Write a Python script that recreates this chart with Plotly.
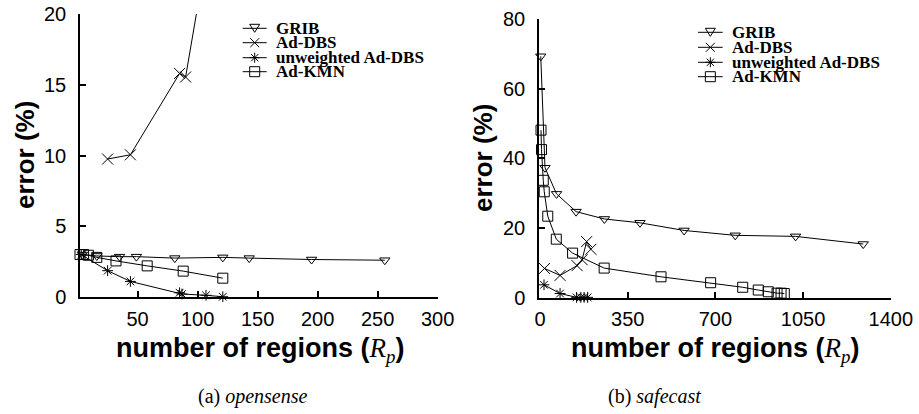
import plotly.graph_objects as go

W, H = 919, 414

# ---------------- data: (a) opensense ----------------
a_grib_x = [4, 16, 35, 49, 81, 121, 143, 195, 256]
a_grib_y = [3.0, 2.9, 2.85, 2.85, 2.75, 2.8, 2.75, 2.65, 2.6]

a_dbs_x = [25, 44, 85, 90, 120]
a_dbs_y = [9.75, 10.05, 15.8, 15.55, 30.4]

a_unw_x = [3, 25, 44, 85, 87, 107, 121]
a_unw_y = [3.0, 1.86, 1.1, 0.3, 0.21, 0.12, 0.02]

a_kmn_x = [2, 5, 9, 16, 32, 58, 88, 121]
a_kmn_y = [3.0, 3.0, 2.95, 2.8, 2.55, 2.2, 1.83, 1.33]

# ---------------- data: (b) safecast ----------------
b_grib_x = [3, 20, 66, 144, 257, 399, 575, 779, 1020, 1290]
b_grib_y = [69.3, 37.3, 29.8, 24.7, 22.6, 21.5, 19.3, 17.9, 17.6, 15.4]

b_dbs_x = [18, 80, 148, 168, 186, 203]
b_dbs_y = [8.4, 6.4, 9.2, 10.9, 16.1, 13.9]

b_unw_x = [16, 80, 146, 163, 176, 190]
b_unw_y = [3.7, 1.2, 0.1, 0.1, 0.1, 0.1]

b_kmn_x = [4, 6, 13, 17, 31, 65, 130, 256, 483, 681, 809, 871, 911, 946, 962, 975]
b_kmn_y = [48.1, 42.5, 33.7, 30.4, 23.4, 16.8, 12.8, 8.5, 6.0, 4.3, 3.0, 2.2, 1.7, 1.3, 1.3, 1.2]

a_xticks = [50, 100, 150, 200, 250, 300]
a_yticks = [0, 5, 10, 15, 20]
b_xticks = [0, 350, 700, 1050, 1400]
b_yticks = [0, 20, 40, 60, 80]

series_names = ["GRIB", "Ad-DBS", "unweighted Ad-DBS", "Ad-KMN"]
symbols = ["triangle-down-open", "x-thin-open", "asterisk-open", "square-open"]
sizes = [9, 11, 9, 10]

fig = go.Figure()

def add(xs, ys, k, xa, ya, clip=False):
    fig.add_trace(go.Scatter(
        x=xs, y=ys, mode="lines+markers", name=series_names[k],
        xaxis=xa, yaxis=ya, showlegend=False, cliponaxis=clip,
        line=dict(color="black", width=1),
        marker=dict(symbol=symbols[k], size=sizes[k], color="black",
                    line=dict(color="black", width=1)),
    ))

add(a_grib_x, a_grib_y, 0, "x", "y")
add(a_dbs_x, a_dbs_y, 1, "x", "y", clip=True)
add(a_unw_x, a_unw_y, 2, "x", "y")
add(a_kmn_x, a_kmn_y, 3, "x", "y")

add(b_grib_x, b_grib_y, 0, "x2", "y2")
add(b_dbs_x, b_dbs_y, 1, "x2", "y2")
add(b_unw_x, b_unw_y, 2, "x2", "y2")
add(b_kmn_x, b_kmn_y, 3, "x2", "y2")

tickfont = dict(family="Liberation Sans, Arial, sans-serif", size=20, color="black")
common = dict(showline=True, linecolor="black", linewidth=1.5, ticks="inside",
              ticklen=6, tickwidth=1.5, tickcolor="black", showgrid=False,
              zeroline=False, tickfont=tickfont, automargin=False)

def fx(p):
    return p / W

def fy(p):
    return 1 - p / H

fig.update_layout(
    width=W, height=H,
    margin=dict(l=0, r=0, t=0, b=0),
    paper_bgcolor="white", plot_bgcolor="white",
    showlegend=False,
    xaxis=dict(domain=[fx(80), fx(437.6)], range=[2, 300], anchor="y",
               tickvals=a_xticks, ticklabelstandoff=3, **common),
    yaxis=dict(domain=[fy(297), fy(14)], range=[0, 20], anchor="x",
               tickvals=a_yticks, ticklabelstandoff=8, **common),
    xaxis2=dict(domain=[fx(539), fx(890.8)], range=[-4, 1400], anchor="y2",
                tickvals=b_xticks, ticklabelstandoff=3, **common),
    yaxis2=dict(domain=[fy(297.7), fy(19)], range=[0, 80], anchor="x2",
                tickvals=b_yticks, ticklabelstandoff=8, **common),
)

annos = []
shapes = []

ytitle_font = dict(family="Liberation Sans, Arial, sans-serif", size=26, color="black")
xtitle_font = dict(family="Liberation Sans, Arial, sans-serif", size=27, color="black")
xtitle = ("<b>number of regions (</b><span style=\"font-family:Liberation Serif\">"
          "<i>R</i><sub><i>p</i></sub></span><b>)</b>")
for cx, cy in [(25, 155), (483, 158)]:
    annos.append(dict(text="<b>error (%)</b>", textangle=-90, x=fx(cx), y=fy(cy),
                      xref="paper", yref="paper", showarrow=False,
                      xanchor="center", yanchor="middle", font=ytitle_font))
for cx in [260, 715]:
    annos.append(dict(text=xtitle, x=fx(cx), y=fy(350), xref="paper", yref="paper",
                      showarrow=False, xanchor="center", yanchor="middle", font=xtitle_font))

cap_font = dict(family="Liberation Serif, Times New Roman, serif", size=20, color="black")
for txt, cx in [("(a) <i>opensense</i>", 253), ("(b) <i>safecast</i>", 654)]:
    annos.append(dict(text=txt, x=fx(cx), y=fy(396), xref="paper", yref="paper",
                      showarrow=False, xanchor="center", yanchor="middle", font=cap_font))

# manual legends
leg_font = dict(family="Liberation Serif, Times New Roman, serif", size=17, color="black")

def marker_path(k, cx, cy):
    if k == 0:
        return "M{},{} L{},{} L{},{} Z".format(fx(cx - 5), fy(cy - 4), fx(cx + 5), fy(cy - 4),
                                            fx(cx), fy(cy + 4))
    if k == 1:
        r = 4.5
        return "M{},{} L{},{} M{},{} L{},{}".format(fx(cx - r), fy(cy - r), fx(cx + r), fy(cy + r),
                                                   fx(cx - r), fy(cy + r), fx(cx + r), fy(cy - r))
    if k == 2:
        r, d = 5, 3.6
        segs = [(cx - r, cy, cx + r, cy), (cx, cy - r, cx, cy + r),
                (cx - d, cy - d, cx + d, cy + d), (cx - d, cy + d, cx + d, cy - d)]
        return " ".join("M{},{} L{},{}".format(fx(a), fy(b), fx(c), fy(e)) for a, b, c, e in segs)
    r = 5
    return "M{},{} L{},{} L{},{} L{},{} Z".format(fx(cx - r), fy(cy - r), fx(cx + r), fy(cy - r),
                                                fx(cx + r), fy(cy + r), fx(cx - r), fy(cy + r))

legends = [
    dict(rows=[28.3, 42.7, 57.7, 71.7], x0=242.7, x1=266.7, tx=274),
    dict(rows=[32.3, 47.3, 62.3, 76.7], x0=698, x1=722.7, tx=729.7),
]
for lg in legends:
    cx = (lg["x0"] + lg["x1"]) / 2
    for k, ry in enumerate(lg["rows"]):
        shapes.append(dict(type="line", xref="paper", yref="paper",
                           x0=fx(lg["x0"]), x1=fx(lg["x1"]), y0=fy(ry), y1=fy(ry),
                           line=dict(color="black", width=1)))
        shapes.append(dict(type="path", xref="paper", yref="paper",
                           path=marker_path(k, cx, ry),
                           line=dict(color="black", width=1), fillcolor="rgba(0,0,0,0)"))
        annos.append(dict(text="<b>" + series_names[k] + "</b>", x=fx(lg["tx"]), y=fy(ry),
                          xref="paper", yref="paper", showarrow=False,
                          xanchor="left", yanchor="middle", font=leg_font))

fig.update_layout(annotations=annos, shapes=shapes)

fig.write_html("out.html", config={"displayModeBar": False},
               post_script="document.body.style.margin='0';")
